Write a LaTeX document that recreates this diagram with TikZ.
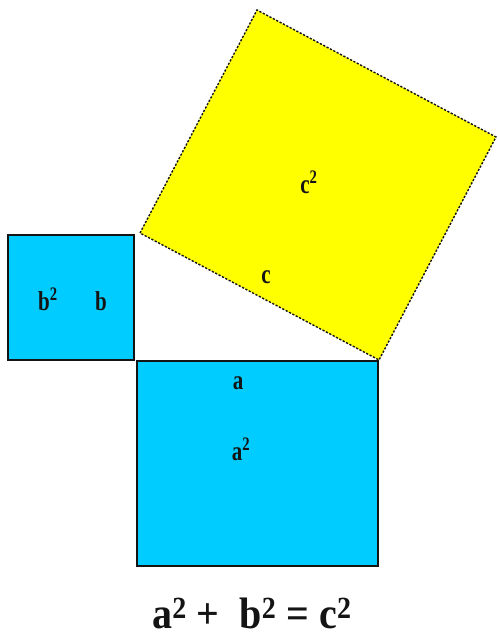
\documentclass[tikz,border=0pt]{standalone}
\usepackage{fontspec}
\setmainfont{Liberation Serif}
\usepackage{xcolor}
\usetikzlibrary{calc}
\definecolor{Sky}{HTML}{00CCFF}
\definecolor{Lemon}{HTML}{FFFF00}
\definecolor{Edge}{HTML}{141414}
\newcommand{\sq}{\textsuperscript{2}}
\newcommand{\tall}[2]{\scalebox{1}[#1]{#2}}

\begin{document}
\begin{tikzpicture}[
  x=1pt,y=-1pt,
  bluesq/.style={fill=Sky,draw=Edge,line width=1.2pt},
  yellowsq/.style={fill=Lemon,draw=Edge,line width=1.4pt,dash pattern=on 2.2pt off 1.6pt},
  lbl/.style={font=\bfseries\fontsize{21}{24}\selectfont,inner sep=0pt,anchor=base,text=Edge},
  eqn/.style={font=\bfseries\fontsize{40}{44}\selectfont,inner sep=0pt,anchor=base,text=Edge}
]
\useasboundingbox (0,0) rectangle (498,638);
% corners of the three squares
\coordinate (bNW) at (8,235);   \coordinate (bSE) at (134,360);
\coordinate (aNW) at (137,361); \coordinate (aSE) at (378,566);
\coordinate (cW) at (140,233);  \coordinate (cN) at (257,10);
\coordinate (cE) at (496,137);  \coordinate (cS) at (379,360);

\fill[white] (0,0) rectangle (498,638);
\draw[bluesq] (bNW) rectangle (bSE);
\draw[bluesq] (aNW) rectangle (aSE);
\draw[yellowsq] (cW)--(cN)--(cE)--(cS)--cycle;

\node[lbl] (bsq) at (48,310) {\tall{1.3}{b\sq}};
\node[lbl] (bside) at (101,310) {\tall{1.3}{b}};
\node[lbl] (aside) at (238,389) {\tall{1.3}{a}};
\node[lbl] (asq) at (241,460) {\tall{1.3}{a\sq}};
\node[lbl] (csq) at (309,193) {\tall{1.3}{c\sq}};
\node[lbl] (cside) at (266,283) {\tall{1.3}{c}};
\node[eqn] (law) at (252,628) {\tall{1.1}{a\sq{} +\ \ b\sq{} = c\sq}};
\end{tikzpicture}
\end{document}
